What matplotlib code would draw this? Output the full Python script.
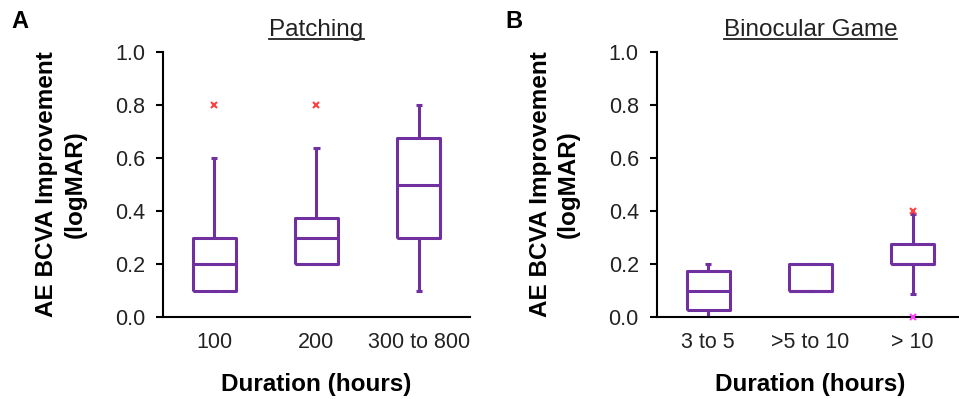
import matplotlib
matplotlib.use('Agg')
import matplotlib.pyplot as plt
from matplotlib.lines import Line2D

plt.rcParams['font.family'] = ['Liberation Sans', 'DejaVu Sans']

BOX_COLOR = '#7030A0'

# Patching: box statistics per duration group
patch_labels = ['100', '200', '300 to 800']
patch_q1 = [0.1, 0.2, 0.3]
patch_med = [0.2, 0.3, 0.5]
patch_q3 = [0.3, 0.375, 0.675]
patch_lo = [0.1, 0.2, 0.1]
patch_hi = [0.6, 0.637, 0.8]
patch_out = [[0.8], [0.8], []]
patch_out_col = [['#ff4040'], ['#ff4040'], []]

# Binocular game: box statistics per duration group
game_labels = ['3 to 5', '>5 to 10', '> 10']
game_q1 = [0.025, 0.1, 0.2]
game_med = [0.1, 0.1, 0.2]
game_q3 = [0.175, 0.2, 0.275]
game_lo = [0.0, 0.1, 0.085]
game_hi = [0.2, 0.2, 0.39]
game_out = [[], [], [0.4, 0.0]]
game_out_col = [[], [], ['#ff4040', '#ff40ff']]

yticks = [0.0, 0.2, 0.4, 0.6, 0.8, 1.0]


def make_stats(labels, q1, med, q3, lo, hi):
    return [dict(label=l, q1=a, med=m, q3=b, whislo=w0, whishi=w1, fliers=[])
            for l, a, m, b, w0, w1 in zip(labels, q1, med, q3, lo, hi)]


def draw_panel(ax, stats, outliers, out_colors, title, letter):
    lp = dict(color=BOX_COLOR, linewidth=2.2, solid_capstyle='butt')
    ax.bxp(stats, positions=[1, 2, 3], widths=0.42, capwidths=0.06,
           showfliers=False, boxprops=lp, medianprops=lp,
           whiskerprops=lp, capprops=lp)
    for i, (vals, cols) in enumerate(zip(outliers, out_colors)):
        for v, c in zip(vals, cols):
            ax.plot(i + 1, v, 'x', color=c, ms=5, mew=1.5, clip_on=False, zorder=5)

    ax.set_xlim(0.5, 3.5)
    ax.set_ylim(0, 1.0)
    ax.set_yticks(yticks)
    ax.set_yticklabels([f'{t:.1f}' for t in yticks])
    ax.spines['top'].set_visible(False)
    ax.spines['right'].set_visible(False)
    for s in ('left', 'bottom'):
        ax.spines[s].set_linewidth(1.5)
    ax.tick_params(axis='y', length=5, width=1.5, pad=8, labelsize=15.5, labelcolor='#222222')
    ax.tick_params(axis='x', length=0, pad=11, labelsize=15.5, labelcolor='#222222')

    ax.set_ylabel('AE BCVA Improvement\n(logMAR)', fontsize=17.5, fontweight='bold',
                  linespacing=1.3)
    ax.yaxis.set_label_coords(-0.25, 0.5)
    ax.set_xlabel('Duration (hours)', fontsize=17.5, fontweight='bold', labelpad=14)

    t = ax.text(0.5, 1.083, title, transform=ax.transAxes, ha='center', va='center',
                fontsize=17.5, color='#222222')
    ax.figure.canvas.draw()
    bb = t.get_window_extent().transformed(ax.figure.transFigure.inverted())
    ax.figure.add_artist(Line2D([bb.x0, bb.x1], [bb.y0 + 0.004, bb.y0 + 0.004],
                                color='#222222', linewidth=1.3))

    ax.text(-0.493, 1.117, letter, transform=ax.transAxes, ha='left', va='center',
            fontsize=17, fontweight='bold')


fig = plt.figure(figsize=(9.59, 3.99), dpi=100)
ax_a = fig.add_axes([0.170, 0.2055, 0.320, 0.664])
ax_b = fig.add_axes([0.685, 0.2055, 0.320, 0.664])

draw_panel(ax_a, make_stats(patch_labels, patch_q1, patch_med, patch_q3, patch_lo, patch_hi),
           patch_out, patch_out_col, 'Patching', 'A')
draw_panel(ax_b, make_stats(game_labels, game_q1, game_med, game_q3, game_lo, game_hi),
           game_out, game_out_col, 'Binocular Game', 'B')

fig.savefig('out.png', dpi=100)
